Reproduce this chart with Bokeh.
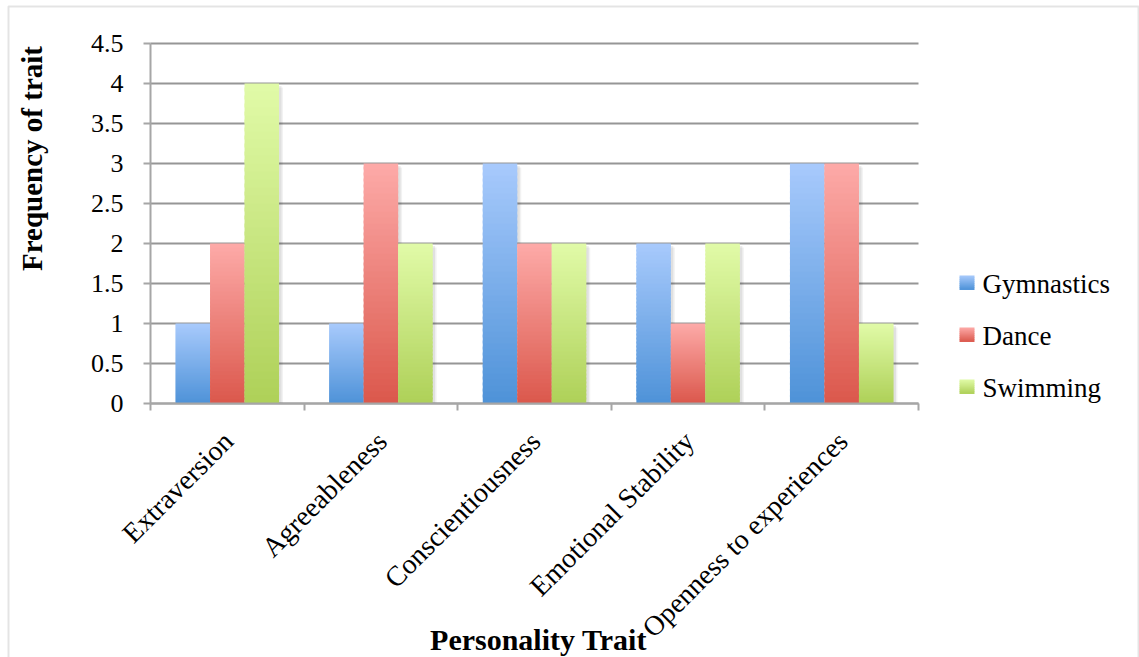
import math
from bokeh.plotting import figure
from bokeh.models import Label, BoxAnnotation, FixedTicker, Range1d, LinearAxis
from bokeh.embed import file_html
from bokeh.resources import INLINE

# ---------------- data ----------------
categories = ["Extraversion", "Agreeableness", "Conscientiousness",
              "Emotional Stability", "Openness to experiences"]
series_names = ["Gymnastics", "Dance", "Swimming"]
gymnastics = [1, 1, 3, 2, 3]
dance = [2, 3, 2, 1, 3]
swimming = [4, 2, 2, 2, 1]
y_ticks = [0, 0.5, 1, 1.5, 2, 2.5, 3, 3.5, 4, 4.5]
y_tick_labels = ["0", "0.5", "1", "1.5", "2", "2.5", "3", "3.5", "4", "4.5"]
x_title = "Personality Trait"
y_title = "Frequency of trait"

series_values = [gymnastics, dance, swimming]
# (top colour, bottom colour) of each gradient
series_colors = [((168, 202, 252), (78, 146, 216)),
                 ((253, 170, 168), (219, 88, 76)),
                 ((225, 251, 168), (174, 208, 88))]

# ---------------- layout ----------------
W, H = 1139, 657
PL, PR, PT, PB = 150, 918, 43, 403          # plot area in canvas pixels
NC = len(categories)
YMAX = y_ticks[-1]
pxx = (PR - PL) / NC
pxy = (PB - PT) / YMAX
SERIF = "Liberation Serif"
BASE_FIX = 9   # alphabetic baseline correction observed in rendering

def sx(px):   # canvas x -> screen units (frame == canvas)
    return px

def sy(py):   # canvas y from top -> screen units from bottom
    return H - py

def hexc(c):
    return "#%02x%02x%02x" % tuple(int(round(v)) for v in c)

def lerp(c1, c2, t):
    return tuple(a + (b - a) * t for a, b in zip(c1, c2))

p = figure(width=W, height=H, output_backend="svg", toolbar_location=None,
           x_axis_type=None, y_axis_type=None,
           x_range=Range1d(-PL / pxx, NC + (W - PR) / pxx),
           y_range=Range1d(-(H - PB) / pxy, YMAX + PT / pxy),
           min_border=0)
p.outline_line_color = None
p.background_fill_color = "white"
p.border_fill_color = "white"
p.xgrid.visible = False
p.ygrid.visible = False

# gridlines
p.segment(x0=[0] * len(y_ticks), x1=[NC] * len(y_ticks), y0=y_ticks, y1=y_ticks,
          line_color="#969696", line_width=2)

# bars with vertical gradient
bw = 0.2246
N = 40
for j, vals in enumerate(series_values):
    top_c, bot_c = series_colors[j]
    lefts = [i + 0.5 + (j - 1) * bw - bw / 2 for i in range(NC)]
    for k, a in ((4, 0.05), (2.5, 0.07)):
        p.quad(left=[l + k / pxx for l in lefts], right=[l + bw + k / pxx for l in lefts],
               bottom=[0] * len(vals), top=[v - k / pxy for v in vals],
               fill_color="black", fill_alpha=a, line_color=None)
    ql, qr, qb, qt, qc = [], [], [], [], []
    for i, v in enumerate(vals):
        for k in range(N):
            ql.append(lefts[i]); qr.append(lefts[i] + bw)
            qb.append(v * k / N); qt.append(min(v, v * (k + 1.5) / N))
            qc.append(hexc(lerp(bot_c, top_c, (k + 0.5) / N)))
    p.quad(left=ql, right=qr, bottom=qb, top=qt, fill_color=qc, line_color=None)

# axes
yaxis = LinearAxis(fixed_location=0, bounds=(0, YMAX), ticker=FixedTicker(ticks=y_ticks))
yaxis.major_label_overrides = {t: lab for t, lab in zip(y_ticks, y_tick_labels)}
yaxis.major_label_text_font = SERIF
yaxis.major_label_text_font_size = "26px"
yaxis.major_label_text_color = "black"
yaxis.major_label_standoff = 20
xaxis = LinearAxis(fixed_location=0, bounds=(0, NC),
                   ticker=FixedTicker(ticks=list(range(NC + 1))))
xaxis.major_label_overrides = {i: "" for i in range(NC + 1)}
for ax in (xaxis, yaxis):
    ax.axis_line_color = "#a6a6a6"
    ax.axis_line_width = 2
    ax.major_tick_line_color = "#a6a6a6"
    ax.major_tick_line_width = 2
    ax.major_tick_out = 7
    ax.major_tick_in = 0
    ax.minor_tick_line_color = None
p.add_layout(xaxis, "below")
p.add_layout(yaxis, "left")

# category labels (rotated)
for i, cat in enumerate(categories):
    p.add_layout(Label(x=i + 0.5, x_offset=1, y=sy(436), y_units="screen",
                       text=cat, angle=math.pi / 4, text_align="right",
                       text_baseline="middle", text_font=SERIF,
                       text_font_size="28px", text_color="black"))

# axis titles
p.add_layout(Label(x=sx(538), y=sy(648 - BASE_FIX), x_units="screen", y_units="screen",
                   text=x_title, text_align="center", text_baseline="alphabetic",
                   text_font=SERIF, text_font_style="bold", text_font_size="30px",
                   text_color="black"))
p.add_layout(Label(x=sx(41 - BASE_FIX - 1), y=sy(158), x_units="screen", y_units="screen",
                   text=y_title, angle=math.pi / 2, text_align="center",
                   text_baseline="alphabetic", text_font=SERIF,
                   text_font_style="bold", text_font_size="29px", text_color="black"))

# legend
for j, name in enumerate(series_names):
    top_c, bot_c = series_colors[j]
    y0 = 275 + 52 * j
    n = 7
    for k in range(n):
        t = (k + 0.5) / n
        p.add_layout(BoxAnnotation(left=sx(959), right=sx(974),
                                   top=sy(y0 + k * 2), bottom=sy(y0 + k * 2 + 2.5),
                                   left_units="screen", right_units="screen",
                                   top_units="screen", bottom_units="screen",
                                   fill_color=hexc(lerp(top_c, bot_c, t)), fill_alpha=1,
                                   line_color=None))
    p.add_layout(Label(x=sx(982), y=sy(y0 + 17 - BASE_FIX), x_units="screen", y_units="screen",
                       text=name, text_baseline="alphabetic", text_font=SERIF,
                       text_font_size="27px", text_color="black"))

# chart border
p.add_layout(BoxAnnotation(left=sx(8), right=sx(1138), top=sy(6), bottom=sy(720),
                           left_units="screen", right_units="screen",
                           top_units="screen", bottom_units="screen",
                           fill_alpha=0, line_color="#a6a6a6", line_width=2))

open("out.html", "w").write(file_html(p, INLINE))
